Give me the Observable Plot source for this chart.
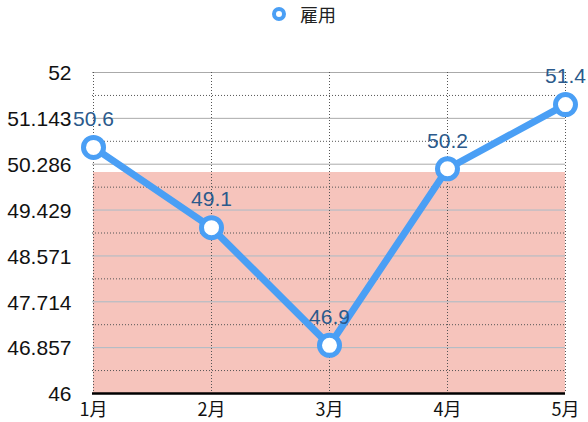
<!DOCTYPE html>
<html><head><meta charset="utf-8">
<script src="https://cdn.jsdelivr.net/npm/d3@7"></script>
<script src="https://cdn.jsdelivr.net/npm/@observablehq/plot@0.6"></script>
<style>
body{margin:0;background:#fff;font-family:"Liberation Sans","Noto Sans CJK JP",sans-serif;}
#legend{height:30px;position:relative;}
#legend svg{position:absolute;left:271px;top:5px;}
#legend span{position:absolute;left:300px;top:1px;font-size:18px;color:#222;font-family:"Noto Sans CJK JP",sans-serif;}
</style></head>
<body>
<div id="legend"><svg width="18" height="18"><circle cx="8" cy="9" r="5" fill="#fff" stroke="#4a9ff5" stroke-width="4"/></svg><span>雇用</span></div>
<div id="chart"></div>
<script>
const seriesName = "雇用";
const months = ["1月","2月","3月","4月","5月"];
const values = [50.6, 49.1, 46.9, 50.2, 51.4];
const yTicks = [46, 46.857, 47.714, 48.571, 49.429, 50.286, 51.143, 52];
const yMinor = [46.429, 47.286, 48.143, 49.0, 49.857, 50.714, 51.571];
const band = [46, 50.13];
const yDomain = [46, 52];

const data = months.map((m,i)=>({m, v: values[i]}));
const bandData = months.map(m=>({m, y1: band[0], y2: band[1]}));

const chart = Plot.plot({
  width: 588, height: 392,
  marginTop: 42, marginBottom: 29, marginLeft: 92, marginRight: 23,
  style: {fontFamily: '"Liberation Sans","Noto Sans CJK JP",sans-serif', background: "#fff", overflow: "visible"},
  x: {type: "point", domain: months, padding: 0, axis: null},
  y: {domain: yDomain, axis: null},
  marks: [
    Plot.areaY(bandData, {x: "m", y1: "y1", y2: "y2", fill: "#f6c4bc"}),
    Plot.ruleY(yTicks.filter(t => t > band[0] && t < band[1]), {stroke: "#a9bcc6", strokeWidth: 1}),
    Plot.ruleY(yTicks.filter(t => t >= band[1]), {stroke: "#aaaaaa", strokeWidth: 1}),
    Plot.ruleY(yMinor, {stroke: "#555", strokeWidth: 1, strokeDasharray: "1,2"}),
    Plot.ruleX(months, {stroke: "#555", strokeWidth: 1, strokeDasharray: "1,2"}),
    Plot.ruleY([yDomain[0]], {stroke: "#000", strokeWidth: 2.5}),
    Plot.text(yTicks, {frameAnchor: "left", y: d => d, text: d => d3.format(".3~f")(d), textAnchor: "end", dx: -21, dy: 1, fontSize: 21, fill: "#111"}),
    Plot.text(months, {x: d => d, y: () => yDomain[0], text: d => d, dy: 17, fontSize: 18, fill: "#111", fontFamily: '"Noto Sans CJK JP",sans-serif'}),
    Plot.line(data, {x: "m", y: "v", stroke: "#4a9ff5", strokeWidth: 7, strokeLinejoin: "round"}),
    Plot.dot(data, {x: "m", y: "v", r: 10, fill: "#fff", stroke: "#4a9ff5", strokeWidth: 5}),
    Plot.text(data, {x: "m", y: "v", text: d => String(d.v), dy: -28, fontSize: 21, fill: "#2b5a8c"})
  ]
});
document.getElementById("chart").appendChild(chart);
</script>
</body></html>
